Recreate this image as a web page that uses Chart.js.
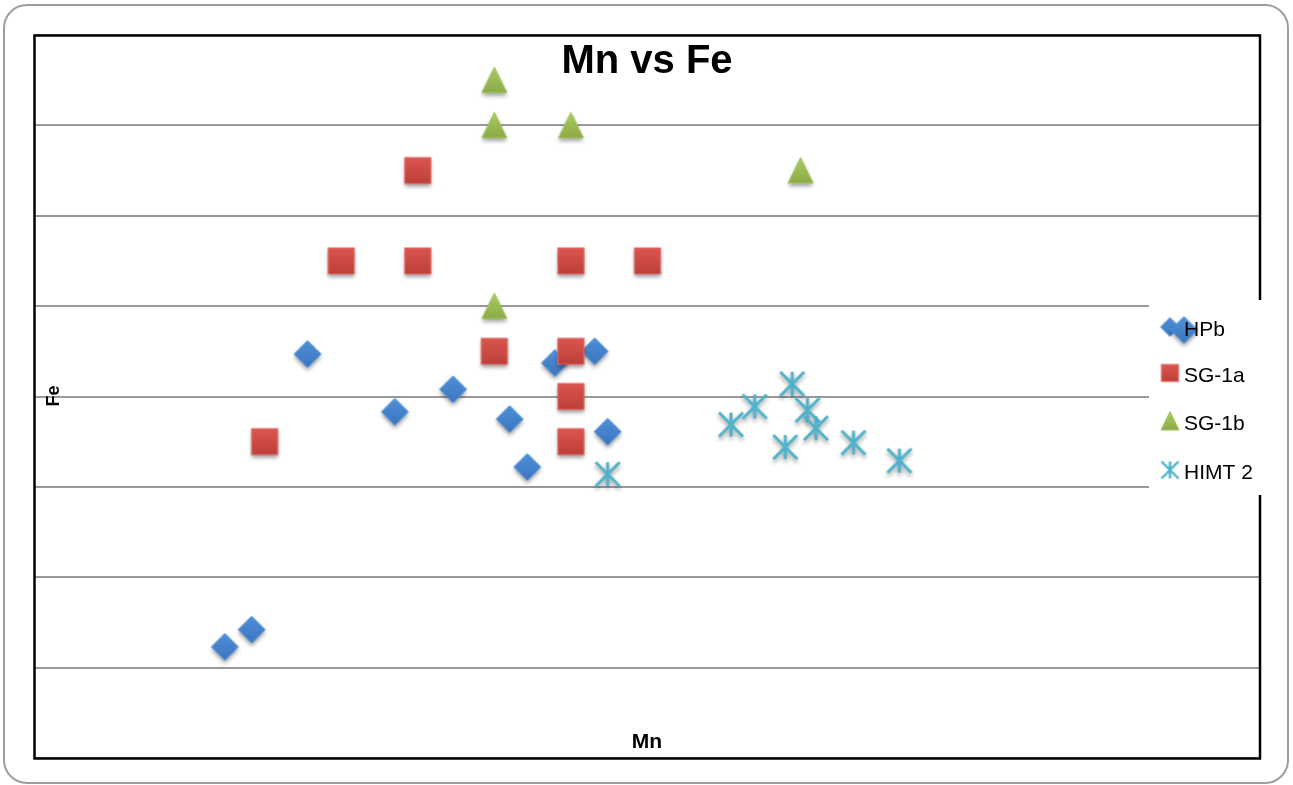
<!DOCTYPE html>
<html>
<head>
<meta charset="utf-8">
<title>Mn vs Fe</title>
<script src="https://cdn.jsdelivr.net/npm/chart.js@4.4.1/dist/chart.umd.min.js"></script>
<style>
  html, body { margin: 0; padding: 0; background: #fff; overflow: hidden; }
  #marco {
    position: absolute; left: 3px; top: 4px; width: 1286px; height: 780px;
    box-sizing: border-box; border: 2.5px solid #9e9e9e; border-radius: 24px;
  }
  #grafica { position: absolute; left: 0; top: 0; }
</style>
</head>
<body>
<div id="marco"></div>
<canvas id="grafica" width="1293" height="785"></canvas>
<script>
// datos (eje x 0..16, eje y 0..8, sin etiquetas)
const SERIES = ['HPb', 'SG-1a', 'SG-1b', 'HIMT 2'];

const HPB_X = [3.56, 5.46, 4.70, 6.20, 6.79, 7.31, 7.48, 6.43, 2.48, 2.83];
const HPB_Y = [4.47, 4.08, 3.83, 3.75, 4.37, 4.50, 3.61, 3.22, 1.23, 1.42];

const SG1A_X = [5, 4, 5, 7, 8, 6, 7, 7, 7, 3];
const SG1A_Y = [6.5, 5.5, 5.5, 5.5, 5.5, 4.5, 4.5, 4.0, 3.5, 3.5];

const SG1B_X = [6, 6, 7, 10, 6];
const SG1B_Y = [7.5, 7, 7, 6.5, 5];

const HIMT_X = [9.09, 9.40, 9.89, 10.09, 10.20, 9.80, 10.69, 11.29, 7.48];
const HIMT_Y = [3.69, 3.89, 4.14, 3.85, 3.65, 3.44, 3.49, 3.29, 3.14];

const X_MIN = 0, X_MAX = 16;
const Y_MIN = 0, Y_MAX = 8, Y_PASO = 1;

function puntos(xs, ys) {
    return xs.map((x, i) => ({ x: x, y: ys[i] }));
}

// marcadores con degradado y sombra, como en Excel
function marcador(tipo, tam, sombra) {
    const pad = 9;
    const S = Math.ceil(tam + pad * 2);
    const c = document.createElement('canvas');
    c.width = S; c.height = S;
    const g = c.getContext('2d');
    const m = S / 2, h = tam / 2;
    if (sombra) {
        g.shadowColor = 'rgba(0,0,0,0.38)';
        g.shadowBlur = 4;
        g.shadowOffsetY = 3;
    }
    g.beginPath();
    let grad;
    if (tipo === 'diamante') {
        g.moveTo(m, m - h); g.lineTo(m + h, m); g.lineTo(m, m + h); g.lineTo(m - h, m);
        g.closePath();
        grad = g.createLinearGradient(0, m - h, 0, m + h);
        grad.addColorStop(0, '#4f90d9'); grad.addColorStop(1, '#3a76bf');
        g.fillStyle = grad; g.fill();
        g.shadowColor = 'transparent';
        g.strokeStyle = '#5a96d6'; g.lineWidth = 1; g.stroke();
    } else if (tipo === 'cuadro') {
        g.rect(m - h, m - h, tam, tam);
        grad = g.createLinearGradient(0, m - h, 0, m + h);
        grad.addColorStop(0, '#db564f'); grad.addColorStop(1, '#bd3f39');
        g.fillStyle = grad; g.fill();
        g.shadowColor = 'transparent';
        g.strokeStyle = '#df6a63'; g.lineWidth = 1.2; g.stroke();
    } else if (tipo === 'triangulo') {
        g.moveTo(m, m - h * 1.05); g.lineTo(m + h, m + h); g.lineTo(m - h, m + h);
        g.closePath();
        grad = g.createLinearGradient(0, m - h, 0, m + h);
        grad.addColorStop(0, '#a9cb62'); grad.addColorStop(1, '#8cab46');
        g.fillStyle = grad; g.fill();
        g.shadowColor = 'transparent';
        g.strokeStyle = '#a3c560'; g.lineWidth = 1; g.stroke();
    } else {
        g.strokeStyle = '#4db3cc';
        g.lineWidth = tam > 20 ? 3 : 2.4;
        g.lineCap = 'butt';
        g.moveTo(m, m - h); g.lineTo(m, m + h);
        g.moveTo(m - h, m - h); g.lineTo(m + h, m + h);
        g.moveTo(m + h, m - h); g.lineTo(m - h, m + h);
        g.stroke();
    }
    return c;
}

const M_HPB = marcador('diamante', 27, true);
const M_SG1A = marcador('cuadro', 26, true);
const M_SG1B = marcador('triangulo', 25, true);
const M_HIMT = marcador('asterisco', 24, true);

const L_MARCAS = [
    marcador('diamante', 19, false),
    marcador('cuadro', 17, false),
    marcador('triangulo', 18, false),
    marcador('asterisco', 17, false)
];

const extras = {
    id: 'extras',
    beforeDatasetsDraw(chart) {
        const a = chart.chartArea;
        const ctx = chart.ctx;
        ctx.save();
        ctx.strokeStyle = '#000';
        ctx.lineWidth = 2.5;
        ctx.strokeRect(a.left - 0.5, a.top + 0.5, a.right - a.left + 0.5, a.bottom - a.top);
        ctx.restore();
    },
    afterDraw(chart) {
        const ctx = chart.ctx;
        ctx.save();
        ctx.fillStyle = '#000';
        // titulo
        ctx.font = 'bold 40px "Liberation Sans", Arial, sans-serif';
        ctx.textAlign = 'center';
        ctx.textBaseline = 'alphabetic';
        ctx.fillText('Mn vs Fe', 647, 73);
        // titulo eje x
        ctx.font = 'bold 21px "Liberation Sans", Arial, sans-serif';
        ctx.fillText('Mn', 647, 748);
        // titulo eje y
        ctx.save();
        ctx.translate(58.5, 396);
        ctx.rotate(-Math.PI / 2);
        ctx.font = 'bold 18px "Liberation Sans", Arial, sans-serif';
        ctx.fillText('Fe', 0, 0);
        ctx.restore();

        // leyenda
        ctx.fillStyle = '#fff';
        ctx.fillRect(1149, 300, 122, 195);
        const ys = [327, 373, 421, 470];
        ctx.font = '21px "Liberation Sans", Arial, sans-serif';
        ctx.textAlign = 'left';
        ctx.textBaseline = 'alphabetic';
        SERIES.forEach((nombre, i) => {
            const mk = L_MARCAS[i];
            ctx.drawImage(mk, 1170 - mk.width / 2, ys[i] - mk.height / 2);
            if (i === 0) {
                ctx.drawImage(M_HPB, 1184 - M_HPB.width / 2, 330 - M_HPB.height / 2);
            }
            ctx.fillStyle = '#000';
            ctx.fillText(nombre, 1184, ys[i] + 8.5);
        });
        ctx.restore();
    }
};

const ctx = document.getElementById('grafica').getContext('2d');
const grafica = new Chart(ctx, {
    type: 'scatter',
    data: {
        datasets: [
            { label: SERIES[0], data: puntos(HPB_X, HPB_Y), pointStyle: M_HPB, order: 4 },
            { label: SERIES[1], data: puntos(SG1A_X, SG1A_Y), pointStyle: M_SG1A, order: 3 },
            { label: SERIES[2], data: puntos(SG1B_X, SG1B_Y), pointStyle: M_SG1B, order: 2 },
            { label: SERIES[3], data: puntos(HIMT_X, HIMT_Y), pointStyle: M_HIMT, order: 1 }
        ]
    },
    options: {
        responsive: false,
        animation: false,
        events: [],
        devicePixelRatio: 1,
        layout: {
            padding: { left: 35, right: 33, top: 35, bottom: 27 }
        },
        plugins: {
            legend: { display: false },
            tooltip: { enabled: false },
            title: { display: false }
        },
        scales: {
            x: {
                type: 'linear',
                min: X_MIN,
                max: X_MAX,
                display: false
            },
            y: {
                type: 'linear',
                min: Y_MIN,
                max: Y_MAX,
                ticks: { display: false, stepSize: Y_PASO },
                grid: { color: '#999999', lineWidth: 2, drawTicks: false },
                border: { display: false }
            }
        }
    },
    plugins: [extras]
});
</script>
</body>
</html>
